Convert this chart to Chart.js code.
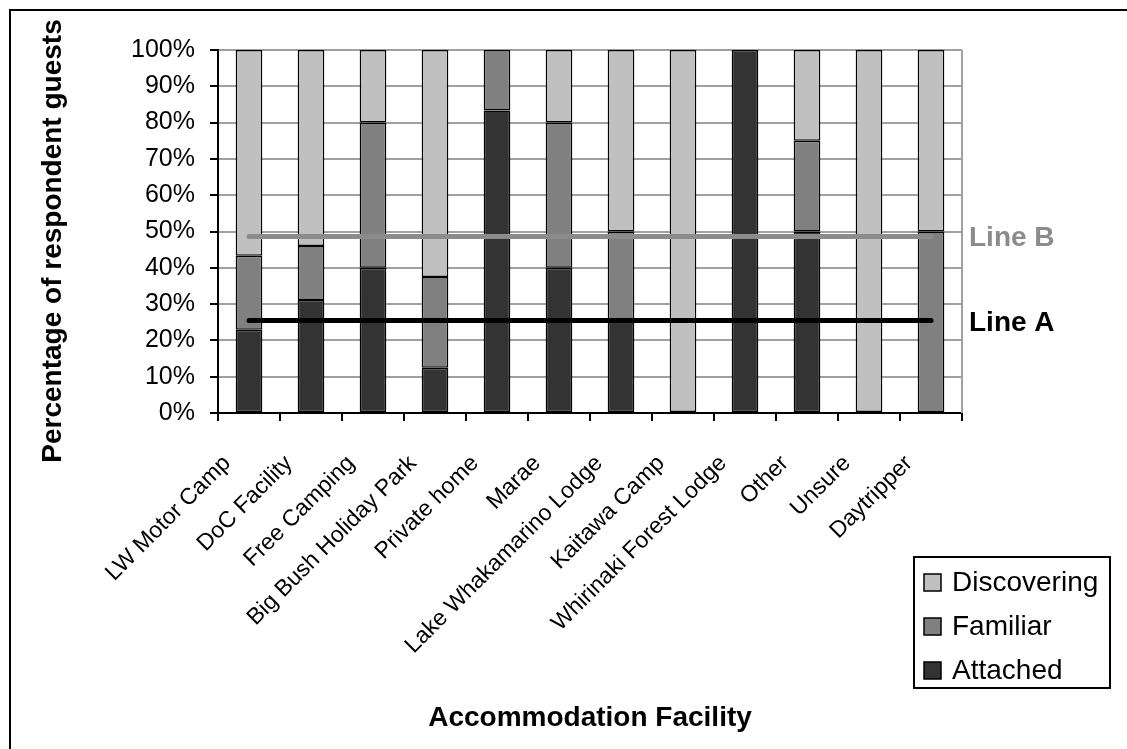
<!DOCTYPE html>
<html>
<head>
<meta charset="utf-8">
<script src="https://cdn.jsdelivr.net/npm/chart.js@4.4.1/dist/chart.umd.min.js"></script>
<style>
  html, body { margin: 0; padding: 0; background: #fff; }
  #wrap { width: 1127px; height: 749px; }
</style>
</head>
<body>
<div id="wrap"><canvas id="chart" width="1127" height="749"></canvas></div>
<script>
// chart data (empty segments are null so no zero-height bar gets drawn)
const categories = ['LW Motor Camp', 'DoC Facility', 'Free Camping', 'Big Bush Holiday Park', 'Private home', 'Marae',
  'Lake Whakamarino Lodge', 'Kaitawa Camp', 'Whirinaki Forest Lodge', 'Other', 'Unsure', 'Daytripper'];
const attached    = [22.9, 31.1, 40, 12.5, 83.3, 40, 25, null, 100, 50, null, null];
const familiar    = [20.4, 14.9, 40, 25, 16.7, 40, 25, null, null, 25, null, 50];
const discovering = [56.7, 54.0, 20, 62.5, null, 20, 50, 100, null, 25, 100, 50];
const lineA = [25.5, 25.5, 25.5, 25.5, 25.5, 25.5, 25.5, 25.5, 25.5, 25.5, 25.5, 25.5];
const lineB = [48.6, 48.6, 48.6, 48.6, 48.6, 48.6, 48.6, 48.6, 48.6, 48.6, 48.6, 48.6];
const yTickLabels = ['0%', '10%', '20%', '30%', '40%', '50%', '60%', '70%', '80%', '90%', '100%'];
const yTitle = 'Percentage of respondent guests';

const FONT = '"Liberation Sans", Arial, sans-serif';
Chart.defaults.font.family = FONT;
Chart.defaults.color = '#000';

// outer frame, y title + right plot edge
const framePlugin = {
    id: 'frame',
    beforeDraw(chart) {
        const ctx = chart.ctx;
        ctx.save();
        ctx.fillStyle = '#fff';
        ctx.fillRect(0, 0, chart.width, chart.height);
        ctx.strokeStyle = '#000';
        ctx.lineWidth = 2;
        ctx.beginPath();
        ctx.moveTo(10, chart.height);
        ctx.lineTo(10, 10);
        ctx.lineTo(chart.width, 10);
        ctx.stroke();

        ctx.translate(53, 241);
        ctx.rotate(-Math.PI / 2);
        ctx.font = 'bold 28px ' + FONT;
        ctx.fillStyle = '#000';
        ctx.textAlign = 'center';
        ctx.textBaseline = 'middle';
        ctx.fillText(yTitle, 0, 0);
        ctx.restore();
    },
    beforeDatasetsDraw(chart) {
        const a = chart.chartArea, ctx = chart.ctx;
        ctx.save();
        ctx.strokeStyle = '#a0a0a0';
        ctx.lineWidth = 2;
        ctx.beginPath();
        ctx.moveTo(a.right, a.top);
        ctx.lineTo(a.right, a.bottom);
        ctx.stroke();
        ctx.restore();
    }
};

// "Line A" / "Line B" tags and the legend box
const labelsPlugin = {
    id: 'labels',
    afterDraw(chart) {
        const ctx = chart.ctx, a = chart.chartArea, y = chart.scales.y;
        ctx.save();
        ctx.font = 'bold 28px ' + FONT;
        ctx.textBaseline = 'middle';
        ctx.fillStyle = '#8c8c8c';
        ctx.fillText('Line B', a.right + 7, y.getPixelForValue(lineB[lineB.length - 1]) + 2);
        ctx.fillStyle = '#000';
        ctx.fillText('Line A', a.right + 7, y.getPixelForValue(lineA[lineA.length - 1]) + 3);

        // legend
        ctx.lineWidth = 2;
        ctx.strokeStyle = '#000';
        ctx.strokeRect(914, 557, 196, 131);
        const items = [2, 1, 0].map(i => chart.data.datasets[i]);
        ctx.font = '28px ' + FONT;
        items.forEach((ds, k) => {
            const cy = 582 + k * 44;
            ctx.fillStyle = ds.backgroundColor;
            ctx.fillRect(924, cy - 8, 17, 17);
            ctx.lineWidth = 1.5;
            ctx.strokeRect(924, cy - 8, 17, 17);
            ctx.fillStyle = '#000';
            ctx.fillText(ds.label, 952, cy + 1);
        });
        ctx.restore();
    }
};

const barStyle = { stack: 'bars', borderColor: '#000', borderWidth: 1.5, borderSkipped: false,
    barPercentage: 0.43, categoryPercentage: 1, order: 1 };

new Chart(document.getElementById('chart'), {
    type: 'bar',
    data: {
        labels: categories,
        datasets: [
            { label: 'Attached', data: attached, backgroundColor: '#333333', ...barStyle },
            { label: 'Familiar', data: familiar, backgroundColor: '#808080', ...barStyle },
            { label: 'Discovering', data: discovering, backgroundColor: '#c0c0c0', ...barStyle },
            { type: 'line', label: 'Line B', data: lineB, stack: 'lb', borderColor: '#8c8c8c', borderWidth: 5,
              pointRadius: 0, borderCapStyle: 'round', fill: false, order: 0 },
            { type: 'line', label: 'Line A', data: lineA, stack: 'la', borderColor: '#000', borderWidth: 5,
              pointRadius: 0, borderCapStyle: 'round', fill: false, order: 0 }
        ]
    },
    options: {
        responsive: false,
        devicePixelRatio: 1,
        animation: false,
        layout: { padding: { left: 0, top: 50, right: 165, bottom: 0 } },
        plugins: { legend: { display: false }, tooltip: { enabled: false } },
        scales: {
            x: {
                stacked: true,
                grid: { offset: true, drawOnChartArea: false, drawTicks: true, tickLength: 8, tickColor: '#000', lineWidth: 2 },
                border: { color: '#000', width: 2 },
                ticks: { autoSkip: false, maxRotation: 45, minRotation: 45, font: { size: 23 }, color: '#000',
                    padding: 29, labelOffset: -22 },
                title: { display: true, text: 'Accommodation Facility', font: { size: 28, weight: 'bold' }, color: '#000',
                    padding: { top: 0, bottom: 14 } },
                afterFit: s => { s.height = 336; }
            },
            y: {
                stacked: true,
                min: 0, max: 100,
                ticks: { stepSize: 10, callback: (v, i) => yTickLabels[i], font: { size: 25 }, color: '#000', padding: 15 },
                grid: { color: '#a0a0a0', lineWidth: 2, tickColor: '#000', tickLength: 8 },
                border: { color: '#000', width: 2 },
                afterFit: s => { s.width = 218; }
            }
        }
    },
    plugins: [framePlugin, labelsPlugin]
});
</script>
</body>
</html>
